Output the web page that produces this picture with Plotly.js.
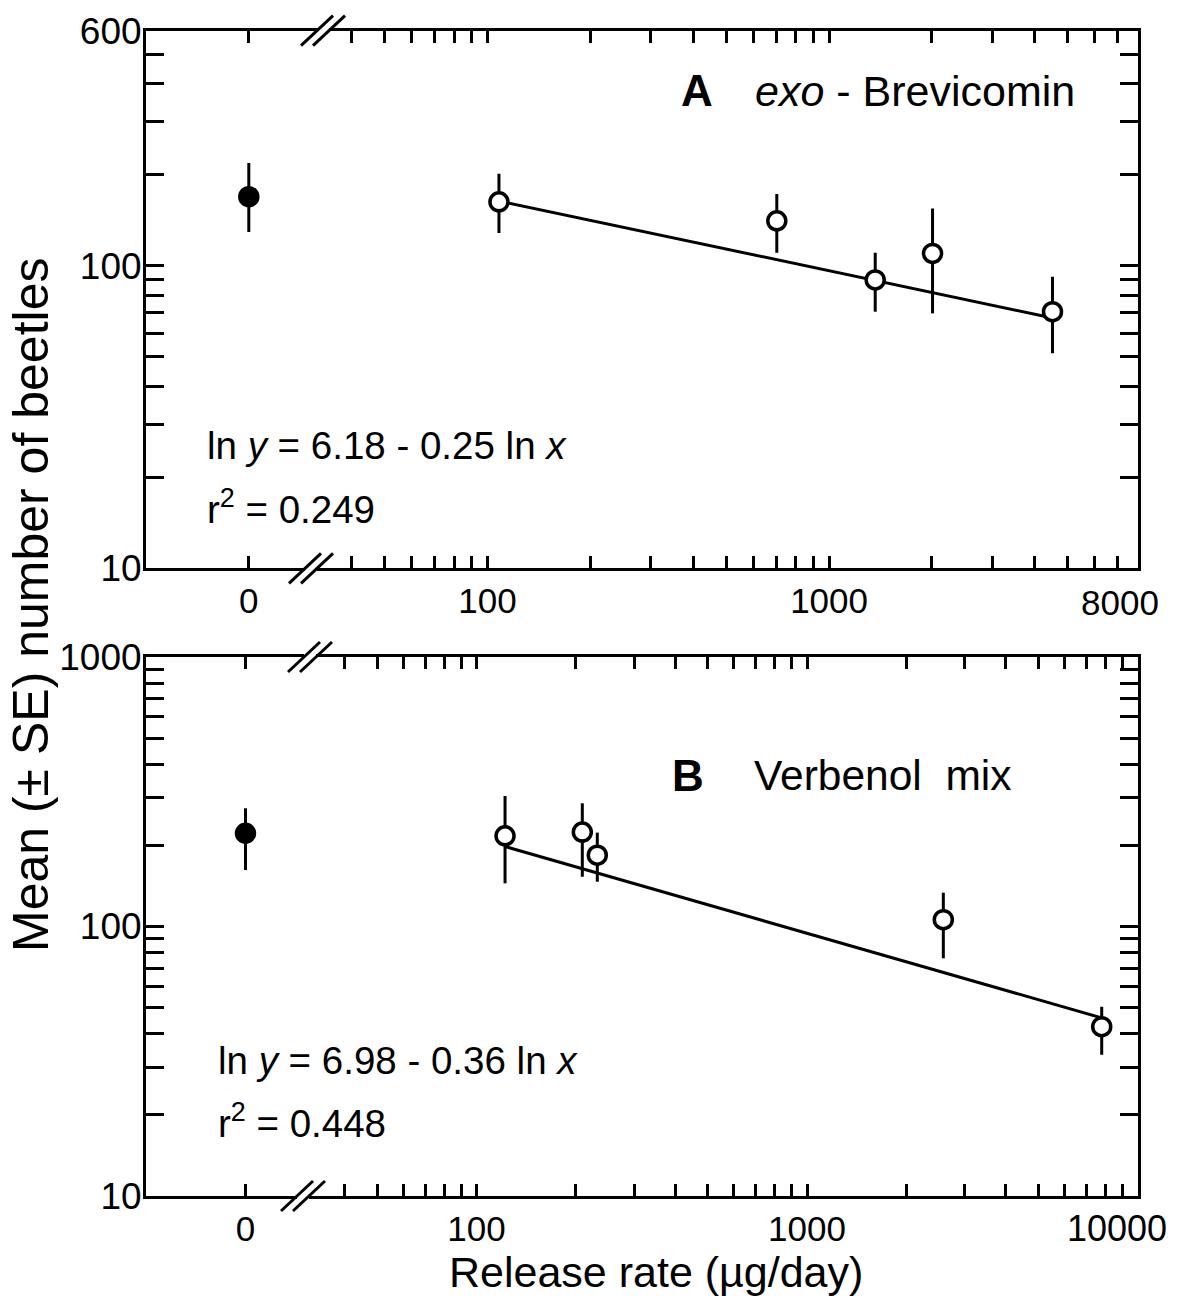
<!DOCTYPE html>
<html>
<head>
<meta charset="utf-8">
<script src="https://cdn.plot.ly/plotly-3.0.1.min.js"></script>
<style>
  html, body { margin: 0; padding: 0; background: #ffffff; }
  #chart { width: 1180px; height: 1305px; }
</style>
</head>
<body>
<div id="chart"></div>
<script>
// ---------------- DATA ----------------
// Panel A: exo-Brevicomin
const rateA      = [108, 703, 1365, 2009, 4510];      // release rate, µg/day
const meanA      = [163, 141, 89.9, 110, 70.6];       // mean number of beetles
const upperA     = [202, 173, 110.6, 155, 92.2];      // mean + SE
const lowerA     = [128.6, 110.6, 70.6, 69.7, 51.4];  // mean - SE
const ctrlMeanA  = [169.5];
const ctrlUpperA = [219];
const ctrlLowerA = [129.6];
const fitRateA   = [108, 4510];
const fitMeanA   = [164, 67.3];

// Panel B: Verbenol mix
const rateB      = [122, 209, 232, 2585, 7793];
const meanB      = [217, 224, 184, 106, 42.5];
const upperB     = [305, 286.5, 223, 133.5, 50.4];
const lowerB     = [144.6, 153, 146.6, 76.2, 33.4];
const ctrlMeanB  = [221.8];
const ctrlUpperB = [274.6];
const ctrlLowerB = [162];
const fitRateB   = [122, 7793];
const fitMeanB   = [198, 45.8];

// Tick positions and labels
const xTickValsA = [20, 40, 50, 60, 70, 80, 90, 100, 200, 300, 400, 500, 600, 700, 800, 900, 1000, 2000, 3000, 4000, 5000, 6000, 7000, 8000];
const xTickValsB = [20, 40, 50, 60, 70, 80, 90, 100, 200, 300, 400, 500, 600, 700, 800, 900, 1000, 2000, 3000, 4000, 5000, 6000, 7000, 8000, 9000, 10000];
const xLabelsA   = {20: '0', 100: '100', 1000: '1000'};
const xLabelsB   = {20: '0', 100: '100', 1000: '1000'};
const xEndLabelA = '8000';    // label at the right end of axis A
const xEndLabelB = '10000';   // label at the right end of axis B
const yTickValsA = [10, 20, 30, 40, 50, 60, 70, 80, 90, 100, 200, 300, 400, 500, 600];
const yTickValsB = [10, 20, 30, 40, 50, 60, 70, 80, 90, 100, 200, 300, 400, 500, 600, 700, 800, 900, 1000];
const yLabelsA   = {10: '10', 100: '100', 600: '600'};
const yLabelsB   = {10: '10', 100: '100', 1000: '1000'};

// The control ("0") is drawn on the broken part of the log axis at this position
const ZERO_AT = 20;

// ---------------- BUILD ----------------
const W = 1180, H = 1305;
const FONT = 'Liberation Sans, Arial, Helvetica, sans-serif';
const TICK_SIZE = 35;
const YTICK_SIZE = 37;
const px = x => x / W;
const py = y => 1 - y / H;

const diff = (a, b) => a.map((v, i) => v - b[i]);
const labels = (vals, map) => vals.map(v => (map[v] !== undefined ? map[v] : ''));

function fitTrace(xs, ys, xa, ya) {
  return { x: xs, y: ys, xaxis: xa, yaxis: ya, mode: 'lines', type: 'scatter',
           line: { color: '#000', width: 3 }, hoverinfo: 'skip', showlegend: false };
}
function pointTrace(xs, ys, up, lo, xa, ya, filled) {
  return {
    x: xs, y: ys, xaxis: xa, yaxis: ya, mode: 'markers', type: 'scatter', showlegend: false,
    error_y: { type: 'data', symmetric: false, array: diff(up, ys), arrayminus: diff(ys, lo),
               width: 0, thickness: 3, color: '#000' },
    marker: { size: 18, color: filled ? '#000' : '#fff', line: { color: '#000', width: 3.5 } }
  };
}

const traces = [
  fitTrace(fitRateA, fitMeanA, 'x', 'y'),
  pointTrace([ZERO_AT], ctrlMeanA, ctrlUpperA, ctrlLowerA, 'x', 'y', true),
  pointTrace(rateA, meanA, upperA, lowerA, 'x', 'y', false),
  fitTrace(fitRateB, fitMeanB, 'x2', 'y2'),
  pointTrace([ZERO_AT], ctrlMeanB, ctrlUpperB, ctrlLowerB, 'x2', 'y2', true),
  pointTrace(rateB, meanB, upperB, lowerB, 'x2', 'y2', false)
];

const axisBase = {
  type: 'log', showline: true, linewidth: 3, linecolor: '#000', mirror: 'ticks',
  ticks: 'inside', tickwidth: 3, tickcolor: '#000', tickmode: 'array',
  showgrid: false, zeroline: false, fixedrange: true,
  tickfont: { family: FONT, size: TICK_SIZE, color: '#000' }
};
const yFont = { family: FONT, size: YTICK_SIZE, color: '#000' };

const plotL = 146, plotR = 1137.5;
const A = { top: 30.7, bottom: 568.3 };
const B = { top: 657, bottom: 1196 };

const layout = {
  width: W, height: H,
  margin: { l: 0, r: 0, t: 0, b: 0 },
  paper_bgcolor: '#fff', plot_bgcolor: '#fff',
  showlegend: false,
  font: { family: FONT, color: '#000' },
  xaxis: Object.assign({}, axisBase, {
    domain: [px(plotL), px(plotR)], anchor: 'y',
    range: [1, Math.log10(8000)], ticklen: 12, ticklabelstandoff: 0,
    tickvals: xTickValsA, ticktext: labels(xTickValsA, xLabelsA)
  }),
  yaxis: Object.assign({}, axisBase, {
    domain: [py(A.bottom), py(A.top)], anchor: 'x',
    range: [1, Math.log10(600)], ticklen: 18, ticklabelstandoff: -6, tickfont: yFont,
    tickvals: yTickValsA, ticktext: labels(yTickValsA, yLabelsA)
  }),
  xaxis2: Object.assign({}, axisBase, {
    domain: [px(plotL), px(plotR)], anchor: 'y2',
    range: [1, 4], ticklen: 12, ticklabelstandoff: 0,
    tickvals: xTickValsB, ticktext: labels(xTickValsB, xLabelsB)
  }),
  yaxis2: Object.assign({}, axisBase, {
    domain: [py(B.bottom), py(B.top)], anchor: 'x2',
    range: [1, 3], ticklen: 18, ticklabelstandoff: -6, tickfont: yFont,
    tickvals: yTickValsB, ticktext: labels(yTickValsB, yLabelsB)
  }),
  annotations: [],
  shapes: []
};

function ann(text, x, y, size, xanchor, extra) {
  layout.annotations.push(Object.assign({
    text: text, xref: 'paper', yref: 'paper', x: px(x), y: py(y),
    xanchor: xanchor || 'left', yanchor: 'middle', showarrow: false,
    font: { family: FONT, size: size, color: '#000' }
  }, extra || {}));
}

// end-of-axis tick labels (pulled inward so they fit the page)
ann(xEndLabelA, 1120, 602, TICK_SIZE, 'center');
ann(xEndLabelB, 1117, 1228, 36, 'center');
// panel titles
ann('<b>A</b>', 697, 91, 44, 'center');
ann('<i>exo</i> - Brevicomin', 753, 91, 43, 'left');
ann('<b>B</b>', 688, 776, 44, 'center');
ann('Verbenol  mix', 752, 776, 42.5, 'left');
// regression equations
ann('ln <i>y</i> = 6.18 - 0.25 ln <i>x</i>', 205, 445, 38.5, 'left');
ann('r<sup>2</sup> = 0.249', 205, 507, 38.5, 'left');
ann('ln <i>y</i> = 6.98 - 0.36 ln <i>x</i>', 216, 1060, 38.5, 'left');
ann('r<sup>2</sup> = 0.448', 216, 1121, 38.5, 'left');
// axis titles
ann('Release rate (µg/day)', 656, 1272, 43, 'center');
ann('Mean (± SE) number of beetles', 31, 605, 50, 'center', { textangle: -90 });

// axis-break marks "//" on the broken part of each x axis
function breakMark(cx, cy) {
  layout.shapes.push({ type: 'rect', xref: 'paper', yref: 'paper',
    x0: px(cx - 6), x1: px(cx + 6), y0: py(cy + 3), y1: py(cy - 3),
    fillcolor: '#fff', line: { width: 0 }, layer: 'above' });
  [-6, 6].forEach(d => {
    layout.shapes.push({ type: 'line', xref: 'paper', yref: 'paper',
      x0: px(cx + d - 16), y0: py(cy + 15), x1: px(cx + d + 16), y1: py(cy - 15),
      line: { color: '#000', width: 3 }, layer: 'above' });
  });
}
breakMark(323, A.top);
breakMark(311, A.bottom);
breakMark(310, B.top);
breakMark(303, B.bottom);

Plotly.newPlot('chart', traces, layout, { staticPlot: true, displayModeBar: false });
</script>
</body>
</html>
